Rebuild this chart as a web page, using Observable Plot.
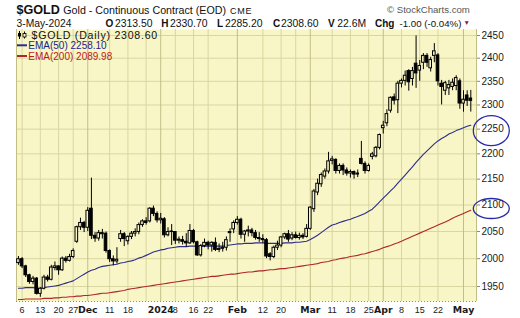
<!DOCTYPE html>
<html><head><meta charset="utf-8">
<script src="https://cdn.jsdelivr.net/npm/d3@7"></script>
<script src="https://cdn.jsdelivr.net/npm/@observablehq/plot@0.6"></script>
<style>
body{margin:0;background:#fff;}
#wrap{position:relative;width:520px;height:318px;overflow:hidden;}
</style></head><body><div id="wrap"></div>
<script>
const dates = [
"2023-11-03","2023-11-06","2023-11-07","2023-11-08","2023-11-09","2023-11-10","2023-11-13","2023-11-14","2023-11-15","2023-11-16","2023-11-17","2023-11-20","2023-11-21","2023-11-22","2023-11-24","2023-11-27","2023-11-28","2023-11-29","2023-11-30",
"2023-12-01","2023-12-04","2023-12-05","2023-12-06","2023-12-07","2023-12-08","2023-12-11","2023-12-12","2023-12-13","2023-12-14","2023-12-15","2023-12-18","2023-12-19","2023-12-20","2023-12-21","2023-12-22","2023-12-26","2023-12-27","2023-12-28","2023-12-29",
"2024-01-02","2024-01-03","2024-01-04","2024-01-05","2024-01-08","2024-01-09","2024-01-10","2024-01-11","2024-01-12","2024-01-16","2024-01-17","2024-01-18","2024-01-19","2024-01-22","2024-01-23","2024-01-24","2024-01-25","2024-01-26","2024-01-29","2024-01-30","2024-01-31",
"2024-02-01","2024-02-02","2024-02-05","2024-02-06","2024-02-07","2024-02-08","2024-02-09","2024-02-12","2024-02-13","2024-02-14","2024-02-15","2024-02-16","2024-02-20","2024-02-21","2024-02-22","2024-02-23","2024-02-26","2024-02-27","2024-02-28","2024-02-29",
"2024-03-01","2024-03-04","2024-03-05","2024-03-06","2024-03-07","2024-03-08","2024-03-11","2024-03-12","2024-03-13","2024-03-14","2024-03-15","2024-03-18","2024-03-19","2024-03-20","2024-03-21","2024-03-22","2024-03-25","2024-03-26","2024-03-27","2024-03-28",
"2024-04-01","2024-04-02","2024-04-03","2024-04-04","2024-04-05","2024-04-08","2024-04-09","2024-04-10","2024-04-11","2024-04-12","2024-04-15","2024-04-16","2024-04-17","2024-04-18","2024-04-19","2024-04-22","2024-04-23","2024-04-24","2024-04-25","2024-04-26","2024-04-29","2024-04-30",
"2024-05-01","2024-05-02","2024-05-03"];

const open = [1992,1999,1986,1970,1958,1964,1937,1946,1966,1962,1983,1986,1979,2000,1996,2003,2031,2058,2066,
2057,2093,2042,2037,2047,2046,2014,1999,1995,2036,2045,2032,2040,2046,2049,2062,2069,2069,2093,2083,
2071,2073,2043,2049,2049,2033,2034,2031,2028,2051,2030,2006,2023,2029,2024,2029,2016,2018,2020,2047,2054,
2066,2072,2044,2050,2052,2047,2038,2036,2034,2008,2003,2020,2024,2039,2045,2037,2043,2038,2042,2040,
2055,2092,2124,2140,2155,2165,2186,2188,2166,2176,2167,2161,2164,2159,2190,2180,2166,2194,2195,2212,
2252,2262,2288,2316,2310,2345,2351,2372,2355,2388,2373,2390,2405,2378,2405,2406,2345,2330,2335,2338,2340,2350,
2303,2320,2313.5];
const high = [2004,2002,1988,1972,1968,1966,1948,1970,1970,1988,1994,1987,2003,2004,2008,2018,2060,2075,2069,
2095,2152,2048,2052,2054,2049,2016,2005,2020,2052,2048,2042,2050,2055,2066,2072,2076,2095,2098,2087,
2084,2076,2057,2063,2050,2040,2041,2046,2063,2054,2032,2026,2036,2032,2031,2038,2027,2030,2040,2055,2070,
2078,2075,2052,2060,2056,2052,2048,2044,2037,2011,2023,2032,2041,2047,2052,2048,2049,2047,2046,2063,
2097,2130,2150,2162,2170,2203,2195,2190,2180,2180,2172,2168,2166,2168,2225,2184,2180,2203,2215,2240,
2266,2290,2317,2323,2350,2355,2372,2375,2380,2449,2395,2410,2410,2402,2432,2410,2352,2350,2352,2355,2362,2355,
2330,2330,2330.7];
const low = [1988,1982,1966,1954,1953,1935,1931,1944,1958,1960,1978,1970,1977,1992,1994,2000,2028,2052,2048,
2050,2035,2030,2032,2036,2010,1993,1987,1990,2030,2022,2025,2035,2040,2044,2058,2062,2066,2078,2066,
2064,2038,2040,2024,2026,2027,2025,2021,2026,2027,2004,2003,2020,2016,2012,2013,2011,2012,2014,2030,2046,
2062,2036,2030,2040,2040,2034,2030,2028,2000,1996,2000,2015,2020,2035,2030,2033,2036,2034,2035,2038,
2052,2086,2118,2134,2150,2160,2178,2160,2160,2157,2156,2152,2150,2153,2178,2160,2164,2188,2192,2208,
2240,2255,2283,2300,2282,2336,2340,2329,2340,2335,2350,2375,2380,2370,2390,2340,2300,2320,2320,2330,2330,2291,
2285,2297,2285.2];
const close = [1999,1986,1970,1958,1964,1937,1946,1966,1962,1984,1986,1979,2000,1996,2003,2014,2058,2066,2057,
2089,2042,2037,2047,2045,2014,1999,1995,1998,2045,2036,2040,2046,2049,2062,2069,2066,2093,2083,2071,
2074,2043,2049,2050,2033,2035,2031,2028,2051,2030,2006,2023,2029,2024,2029,2016,2018,2020,2034,2049,2066,
2072,2044,2050,2052,2047,2038,2036,2034,2004,2003,2020,2024,2039,2045,2035,2043,2038,2042,2039,2055,
2095,2126,2141,2158,2165,2185,2189,2166,2176,2167,2161,2164,2159,2161,2180,2166,2176,2199,2212,2238,
2257,2281,2315,2309,2345,2351,2362,2348,2372,2367,2383,2405,2390,2396,2415,2350,2338,2346,2342,2347,2357,2303,
2311,2309,2308.6];
const ema50 = [1947,1947,1948,1948,1948,1947,1947,1948,1949,1950,1951,1952,1954,1956,1958,1960,1964,1968,1972,
1976,1979,1981,1984,1986,1987,1988,1989,1990,1992,1993,1995,1996,1998,2001,2003,2006,2009,2012,2014,
2016,2017,2019,2020,2021,2022,2022,2022,2023,2023,2023,2022,2023,2023,2023,2023,2023,2023,2024,2025,2026,
2027,2027,2028,2028,2028,2029,2029,2029,2028,2028,2028,2028,2028,2029,2029,2029,2030,2030,2031,2032,
2035,2039,2043,2048,2053,2058,2062,2064,2067,2069,2071,2073,2076,2078,2081,2084,2088,2092,2099,2106,
2113,2120,2127,2134,2142,2150,2158,2166,2174,2183,2191,2199,2206,2213,2220,2226,2231,2235,2240,2243,2247,2250,
2253,2256,2258.1];
const ema200 = [1927,1927,1928,1928,1928,1928,1928,1929,1929,1929,1930,1930,1931,1931,1932,1932,1933,1933,1934,
1934,1935,1936,1937,1938,1938,1939,1940,1941,1942,1943,1945,1946,1947,1948,1949,1950,1951,1952,1953,
1954,1955,1956,1957,1958,1959,1960,1961,1962,1963,1964,1965,1966,1967,1968,1968,1969,1970,1971,1972,1972,
1973,1974,1975,1976,1976,1977,1978,1978,1979,1980,1980,1981,1982,1982,1983,1984,1985,1986,1987,1988,
1989,1990,1991,1993,1994,1995,1997,1998,2000,2001,2002,2004,2005,2006,2008,2009,2011,2013,2015,2017,
2020,2022,2024,2027,2029,2032,2035,2038,2041,2044,2047,2050,2053,2056,2059,2062,2065,2068,2071,2075,2078,2081,
2084,2087,2089.98];

const yTicks = [1950,2000,2050,2100,2150,2200,2250,2300,2350,2400,2450];
const weekTickDates = ["2023-11-06","2023-11-13","2023-11-20","2023-11-27","2023-12-11","2023-12-18","2024-01-08","2024-01-16","2024-01-22","2024-02-12","2024-02-20","2024-03-11","2024-03-18","2024-03-25","2024-04-08","2024-04-15","2024-04-22"];
const weekTickLabels = ["6","13","20","27","11","18","8","16","22","12","20","11","18","25","8","15","22"];
const extraGridDates = ["2023-12-26","2024-02-26"];
const monthTickDates = ["2023-12-01","2024-01-02","2024-02-01","2024-03-01","2024-04-01","2024-05-01"];
const monthTickLabels = ["Dec","2024","Feb","Mar","Apr","May"];
const circledLevels = [2250, 2100];

const BG = "#f8f6c6";
const FONT = "Liberation Sans, Arial, sans-serif";
const pos = new Map(dates.map((d, k) => [d, k - 1]));
const rows = dates.map((d, k) => ({i: k - 1, o: open[k], h: high[k], l: low[k], c: close[k], e50: ema50[k], e200: ema200[k]}));
const weekIdx = weekTickDates.map(d => pos.get(d));
const weekLab = new Map(weekIdx.map((v, k) => [v, weekTickLabels[k]]));
const monthIdx = monthTickDates.map(d => pos.get(d));
const monthLab = new Map(monthIdx.map((v, k) => [v, monthTickLabels[k]]));
const gridIdx = weekIdx.concat(extraGridDates.map(d => pos.get(d)));
const xDom = [-1.535, 124.56];
const yDom = [1923.6, 2463.4];

const chart = Plot.plot({
  width: 520, height: 318,
  marginLeft: 16, marginRight: 44, marginTop: 29, marginBottom: 17,
  style: {background: "transparent", fontFamily: FONT, color: "#111"},
  x: {type: "linear", domain: xDom, axis: null, label: null},
  y: {type: "log", domain: yDom, axis: null, label: null},
  color: {type: "identity"},
  marks: [
    Plot.frame({fill: BG, stroke: null}),
    Plot.ruleY(yTicks, {stroke: "#d9d6a2"}),
    Plot.ruleX(gridIdx, {stroke: "#d9d6a2"}),
    Plot.ruleX(monthIdx, {stroke: "#c2be84"}),
    Plot.ruleX(xDom, {stroke: "#c2be84"}),
    Plot.ruleY([yDom[0]], {stroke: "#8a8a8a", strokeDasharray: "1,2"}),
    Plot.lineY(rows, {x: "i", y: "e200", stroke: "#b0262a", strokeWidth: 1.1}),
    Plot.lineY(rows, {x: "i", y: "e50", stroke: "#2c2c8c", strokeWidth: 1.1}),
    Plot.ruleX(rows, {x: "i", y1: "l", y2: "h", stroke: "#000"}),
    Plot.rect(rows, {x1: d => d.i - 0.36, x2: d => d.i + 0.36, y1: "o", y2: "c",
      fill: d => d.c < d.o ? "#000" : BG, stroke: "#000", strokeWidth: 1}),
    Plot.axisY(yTicks, {anchor: "right", label: null, tickSize: 3, tickPadding: 2, fontSize: 10,
      tickFormat: d => String(d), stroke: "#888", fill: "#1a1a1a", fontFamily: FONT}),
    Plot.axisX(weekIdx, {anchor: "bottom", label: null, tickSize: 0, tickPadding: 5.5, fontSize: 9,
      tickFormat: v => weekLab.get(v), fill: "#1a1a1a", fontFamily: FONT}),
    Plot.axisX(monthIdx, {anchor: "bottom", label: null, tickSize: 0, tickPadding: 5.3, fontSize: 9.4,
      fontWeight: "bold", tickFormat: v => monthLab.get(v), fill: "#1a1a1a", fontFamily: "DejaVu Sans, sans-serif"})
  ]
});
document.getElementById("wrap").appendChild(chart);

const svg = d3.select(chart);
const ys = chart.scale("y");
const g = svg.append("g").attr("font-family", FONT).attr("fill", "#111").attr("text-anchor", "start");
function t(x, y, s, size, opts = {}) {
  const e = g.append("text").attr("x", x).attr("y", y).attr("font-size", size).text(s);
  for (const k in opts) e.attr(k, opts[k]);
  return e;
}
// header
t(16.5, 14, "$GOLD", 12.6, {"font-weight": "bold"});
t(63.3, 13.5, "Gold - Continuous Contract (EOD)", 10.7);
t(230, 13.5, "CME", 9, {"letter-spacing": "0.8"});
t(387, 13, "\u00A9 StockCharts.com", 9.6, {fill: "#555"});
t(16.5, 26.5, "3-May-2024", 10.3);
const hdr = [[105.5, "O", true], [115, "2313.50"], [161.3, "H", true], [170, "2330.70"], [217, "L", true], [225, "2285.20"],
  [273, "C", true], [281, "2308.60"], [328, "V", true], [337.3, "22.6M"], [375, "Chg", true]];
for (const [x, s, b] of hdr) t(x, 26.5, s, b ? 10 : 10.4, b ? {"font-weight": "bold"} : {});
t(399.5, 26.5, "-1.00 (-0.04%)", 9.7);
t(463.5, 24.5, "\u25BC", 6.5, {fill: "#8b1538"});
// legend
const lg = svg.append("g");
lg.append("line").attr("x1", 19.5).attr("x2", 19.5).attr("y1", 31).attr("y2", 39).attr("stroke", "#000");
lg.append("rect").attr("x", 18).attr("y", 33).attr("width", 3).attr("height", 3.5).attr("fill", "#000");
lg.append("line").attr("x1", 24.5).attr("x2", 24.5).attr("y1", 31.5).attr("y2", 38.5).attr("stroke", "#000");
lg.append("rect").attr("x", 23).attr("y", 33.5).attr("width", 3).attr("height", 3.5).attr("fill", BG).attr("stroke", "#000").attr("stroke-width", 0.8);
t(31.5, 38.6, "$GOLD (Daily) 2308.60", 10.6, {"letter-spacing": "0.75"});
lg.append("line").attr("x1", 17).attr("x2", 27).attr("y1", 45.3).attr("y2", 45.3).attr("stroke", "#2c2c8c").attr("stroke-width", 2);
t(28.3, 49, "EMA(50) 2258.10", 10, {fill: "#1c1c8c"});
lg.append("line").attr("x1", 17).attr("x2", 27).attr("y1", 56).attr("y2", 56).attr("stroke", "#b0262a").attr("stroke-width", 2);
t(28.3, 59.7, "EMA(200) 2089.98", 10, {fill: "#c01818"});
// annotation ellipses around axis levels
const ry = [15, 10];
circledLevels.forEach((v, k) => {
  svg.append("ellipse").attr("cx", 491.3).attr("cy", ys.apply(v) + (k ? 4 : 2))
    .attr("rx", 18).attr("ry", ry[k]).attr("fill", "none").attr("stroke", "#2a2aa8").attr("stroke-width", 1.3);
});
</script></body></html>
